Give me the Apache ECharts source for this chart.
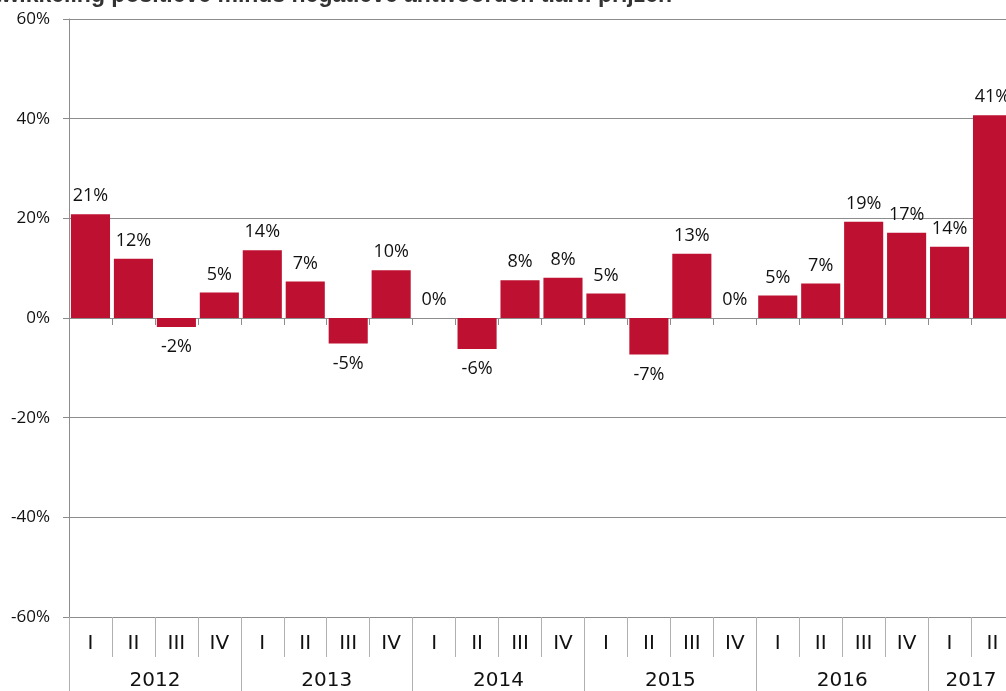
<!DOCTYPE html>
<html>
<head>
<meta charset="utf-8">
<style>
  html, body { margin: 0; padding: 0; background: #fff; }
  #main { width: 1006px; height: 691px; }
</style>
<script src="https://cdn.jsdelivr.net/npm/echarts@6/dist/echarts.min.js"></script>
</head>
<body>
<div id="main"></div>
<script>
// gegevens: saldo positieve minus negatieve antwoorden (%)
const titleText = 'Ontwikkeling positieve minus negatieve antwoorden t.a.v. prijzen';
const years = ['2012', '2013', '2014', '2015', '2016', '2017'];
const quartersPerYear = [4, 4, 4, 4, 4, 2];
const quarterNames = ['I', 'II', 'III', 'IV'];
const values = [
    20.8, 11.9, -1.8, 5.1,
    13.6, 7.3, -5.1, 9.6,
    0, -6.2, 7.6, 8.1,
    4.9, -7.3, 12.9, 0,
    4.5, 6.9, 19.3, 17.1,
    14.3, 40.7
];
const yTicks = [-60, -40, -20, 0, 20, 40, 60];

// categorieen en jaargrenzen opbouwen
const categories = [];
const yearBounds = [0];
const yearCenters = [];
years.forEach((y, i) => {
    const start = categories.length;
    for (let q = 0; q < quartersPerYear[i]; q++) categories.push(quarterNames[q]);
    yearBounds.push(categories.length);
    yearCenters.push((start + categories.length) / 2);
});

const gray = '#8c8c8c';
const textColor = '#111';
const chart = echarts.init(document.getElementById('main'));

chart.setOption({
    animation: false,
    title: {
        text: titleText, right: 334, top: -16, padding: 0,
        textStyle: { fontFamily: 'Liberation Sans', fontSize: 23, fontWeight: 'bold', color: '#333' }
    },
    grid: { left: 69, width: 945, top: 19, bottom: 74, containLabel: false, outerBoundsMode: 'none' },
    xAxis: [
        { // nul-lijn
            type: 'category', data: categories,
            axisLine: { onZero: true, lineStyle: { color: gray, width: 1 } },
            axisTick: { show: true, interval: 0, length: 7, lineStyle: { color: gray } },
            axisLabel: { show: false }
        },
        { // kwartalen
            type: 'category', data: categories, position: 'bottom',
            axisLine: { onZero: false, lineStyle: { color: gray, width: 1 } },
            axisTick: { show: true, interval: 0, length: 40, lineStyle: { color: '#b0b0b0' } },
            axisLabel: { interval: 0, margin: 17, fontFamily: 'DejaVu Sans', fontSize: 20, color: textColor }
        },
        { // jaren
            type: 'value', min: 0, max: categories.length, position: 'bottom',
            axisLine: { show: false, onZero: false },
            splitLine: { show: false },
            axisTick: { show: true, length: 80, customValues: yearBounds, lineStyle: { color: '#b0b0b0' } },
            axisLabel: {
                customValues: yearCenters, margin: 54,
                fontFamily: 'DejaVu Sans', fontSize: 20, color: textColor,
                formatter: v => years[yearCenters.indexOf(v)] || ''
            }
        }
    ],
    yAxis: {
        type: 'value', min: yTicks[0], max: yTicks[yTicks.length - 1], interval: 20,
        axisLine: { show: true, onZero: false, lineStyle: { color: gray } },
        axisTick: { show: true, length: 6, lineStyle: { color: gray } },
        splitLine: { lineStyle: { color: gray, width: 1 } },
        axisLabel: { margin: 19, fontFamily: 'Open Sans', fontSize: 17, color: textColor, formatter: '{value}%' }
    },
    series: [{
        type: 'bar',
        xAxisIndex: 0,
        barCategoryGap: '9%',
        itemStyle: { color: '#be1030' },
        label: {
            show: true, fontFamily: 'Open Sans', fontSize: 18, color: textColor,
            formatter: p => Math.round(p.value) + '%'
        },
        data: values.map(v => ({
            value: v,
            label: v < 0 ? { position: 'bottom', distance: 11 } : { position: 'top', distance: 9 }
        }))
    }]
});
</script>
</body>
</html>
